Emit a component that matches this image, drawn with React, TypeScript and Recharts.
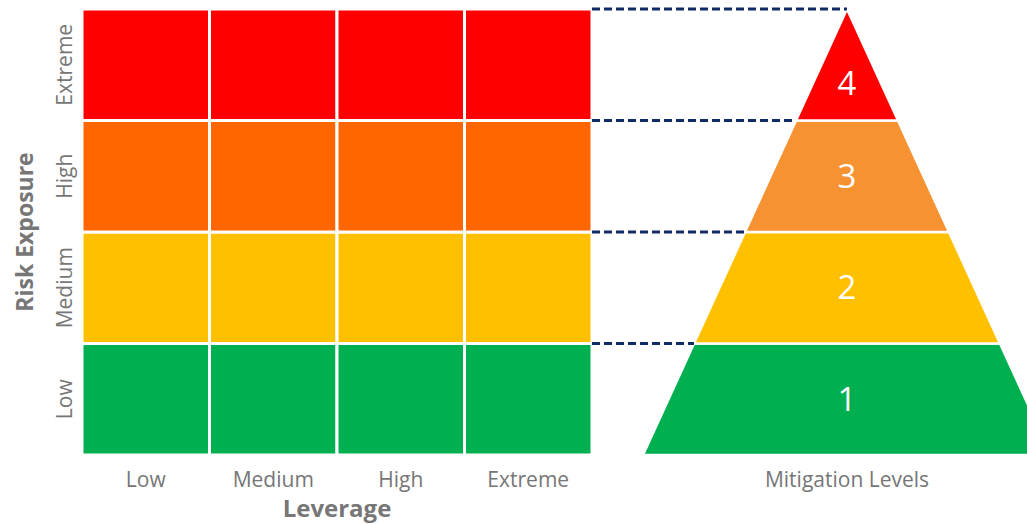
import { Area, ComposedChart, ReferenceArea, ReferenceDot, ReferenceLine, XAxis, YAxis } from 'recharts'

const leverage = ['Low', 'Medium', 'High', 'Extreme']
const riskExposure = ['Low', 'Medium', 'High', 'Extreme']
const riskColors = ['#00B050', '#FFC000', '#FF6600', '#FF0000']

const levels = ['1', '2', '3', '4']
const levelBaseWidths = [3.2, 2.4, 1.6, 0.8]
const levelColors = ['#00B050', '#FFC000', '#F79233', '#FF0000']
const pyramidCenter = 6

const GREY = '#767676'
const NAVY = '#112B66'

// one area per pyramid level: flat bottom, slanted sides, flat (or pointed) top
const pyramidData = levels.map((_, i) => {
  const hb = levelBaseWidths[i] / 2
  const ht = (levelBaseWidths[i + 1] ?? 0) / 2
  return [
    { x: pyramidCenter - hb, range: [i, i] },
    { x: pyramidCenter - ht, range: [i, i + 1] },
    { x: pyramidCenter + ht, range: [i, i + 1] },
    { x: pyramidCenter + hb, range: [i, i] },
  ]
})

const cells = riskExposure.flatMap((_, row) => leverage.map((_, col) => ({ row, col })))

const xTicks = [...leverage.map((_, i) => i + 0.5), pyramidCenter]
const xLabels = [...leverage, 'Mitigation Levels']

const YTick = (props: any) => {
  const { x, y, payload } = props
  const label = riskExposure[Math.floor(payload.value)]
  const tx = x - 2
  return (
    <text x={tx} y={y} transform={`rotate(-90, ${tx}, ${y})`} textAnchor='middle' fill={GREY} fontSize={21}>
      {label}
    </text>
  )
}

export default function App() {
  return (
    <div style={{ position: 'fixed', left: 0, top: 0, width: 1027, height: 524, overflow: 'hidden', background: '#fff', fontFamily: '"Open Sans"' }}>
      <ComposedChart width={1060} height={524} margin={{ top: 9, right: 9, bottom: 0, left: 0 }}>
        <XAxis
          dataKey='x'
          type='number'
          domain={[0, 7.6]}
          allowDataOverflow
          ticks={xTicks}
          interval={0}
          tickFormatter={(_v: number, i: number) => xLabels[i]}
          tickLine={false}
          axisLine={false}
          tickMargin={11}
          height={69}
          tick={{ fill: GREY, fontSize: 21 }}
        />
        <YAxis
          type='number'
          domain={[0, 4]}
          ticks={[0.5, 1.5, 2.5, 3.5]}
          interval={0}
          width={82}
          tickLine={false}
          axisLine={false}
          tick={<YTick />}
          label={(p: any) => {
            const vb = p.viewBox
            const cx = vb.x + 25
            const cy = vb.y + vb.height / 2
            return (
              <text x={cx} y={cy} dy='0.36em' transform={`rotate(-90, ${cx}, ${cy})`} textAnchor='middle' fill={GREY} fontSize={23} fontWeight='bold'>
                Risk Exposure
              </text>
            )
          }}
        />
        {cells.map(({ row, col }) => (
          <ReferenceArea
            key={`${row}-${col}`}
            x1={col}
            x2={col + 1}
            y1={row}
            y2={row + 1}
            fill={riskColors[row]}
            fillOpacity={1}
            stroke='#fff'
            strokeWidth={3}
            ifOverflow='visible'
          />
        ))}
        <ReferenceArea
          x1={0}
          x2={leverage.length}
          y1={0}
          y2={riskExposure.length}
          fill='none'
          stroke='none'
          ifOverflow='visible'
          label={(p: any) => {
            const vb = p.viewBox
            return (
              <text x={vb.x + vb.width / 2} y={vb.y + vb.height + 62} textAnchor='middle' fill={GREY} fontSize={24} fontWeight='bold'>
                Leverage
              </text>
            )
          }}
        />
        {levels.map((lv, i) => (
          <Area
            key={lv}
            data={pyramidData[i]}
            dataKey='range'
            type='linear'
            fill={levelColors[i]}
            fillOpacity={1}
            stroke='#fff'
            strokeWidth={2.5}
            dot={false}
            activeDot={false}
            isAnimationActive={false}
          />
        ))}
        {levels.map((_, i) => {
          const b = i + 1
          const half = (levelBaseWidths[b] ?? 0) / 2
          return (
            <ReferenceLine
              key={`d${b}`}
              segment={[{ x: leverage.length, y: b }, { x: pyramidCenter - half, y: b }]}
              stroke={NAVY}
              strokeWidth={3}
              strokeDasharray='8 4'
              ifOverflow='visible'
            />
          )
        })}
        {levels.map((lv, i) => (
          <ReferenceDot
            key={`l${lv}`}
            x={pyramidCenter}
            y={i === levels.length - 1 ? i + 1 / 3 : i + 0.5}
            r={1}
            fill='none'
            stroke='none'
            ifOverflow='visible'
            label={{ value: lv, position: 'center', fill: '#fff', fontSize: 33 }}
          />
        ))}
      </ComposedChart>
    </div>
  )
}
